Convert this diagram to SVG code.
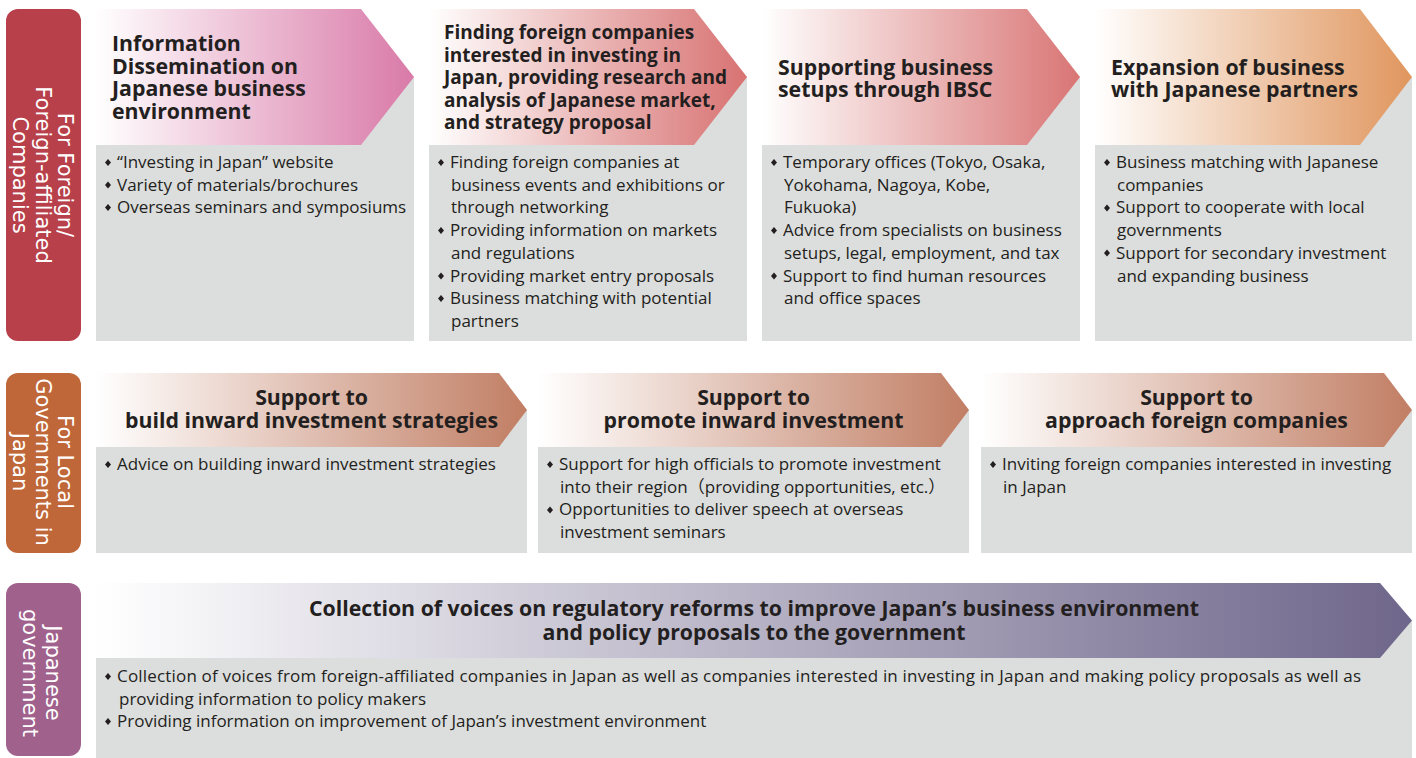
<svg xmlns="http://www.w3.org/2000/svg" width="1416" height="758" viewBox="0 0 1416 758">
<defs>
<linearGradient id="gPink" x1="0" y1="0" x2="1" y2="0"><stop offset="0" stop-color="#ffffff"/><stop offset="1" stop-color="#d97aa8"/></linearGradient>
<linearGradient id="gRed" x1="0" y1="0" x2="1" y2="0"><stop offset="0" stop-color="#ffffff"/><stop offset="1" stop-color="#d87272"/></linearGradient>
<linearGradient id="gRed2" x1="0" y1="0" x2="1" y2="0"><stop offset="0" stop-color="#ffffff"/><stop offset="1" stop-color="#d97575"/></linearGradient>
<linearGradient id="gOrange" x1="0" y1="0" x2="1" y2="0"><stop offset="0" stop-color="#ffffff"/><stop offset="1" stop-color="#e0965e"/></linearGradient>
<linearGradient id="gBrown" x1="0" y1="0" x2="1" y2="0"><stop offset="0" stop-color="#ffffff"/><stop offset="1" stop-color="#c17e64"/></linearGradient>
<linearGradient id="gPurple" x1="0" y1="0" x2="1" y2="0"><stop offset="0" stop-color="#ffffff"/><stop offset="1" stop-color="#6f668b"/></linearGradient>
<path id="dia" d="M0,-3.6 L3,0 L0,3.6 L-3,0 Z" fill="#231f20"/>
</defs>
<style>
.body{fill:#dcdddd}
.lab{font-family:"DejaVu Sans",Verdana,sans-serif;font-size:21px;fill:#ffffff;text-anchor:middle}
.hd{font-family:"Open Sans","Noto Sans",sans-serif;font-weight:bold;font-size:21.3px;fill:#231f20}
.hc{text-anchor:middle}
.tx{font-family:"Open Sans","Noto Sans","Noto Sans CJK JP",sans-serif;font-size:17px;fill:#231f20}
</style>
<rect width="1416" height="758" fill="#ffffff"/>

<g id="label-foreign">
<rect x="6" y="9" width="75" height="332" rx="12" fill="#b7404a"/>
<text class="lab" transform="translate(58,175) rotate(90)"><tspan x="0" y="0">For Foreign/</tspan><tspan x="0" dy="22.5">Foreign-affiliated</tspan><tspan x="0" dy="22.5">Companies</tspan></text>
</g>
<g id="label-local">
<rect x="6" y="373" width="75" height="180" rx="12" fill="#c0673a"/>
<text class="lab" transform="translate(58,462) rotate(90)"><tspan x="0" y="0">For Local</tspan><tspan x="0" dy="22.5">Governments in</tspan><tspan x="0" dy="22.5">Japan</tspan></text>
</g>
<g id="label-gov">
<rect x="6" y="583" width="75" height="173" rx="12" fill="#a0618d"/>
<text class="lab" transform="translate(46,673) rotate(90)"><tspan x="0" y="0">Japanese</tspan><tspan x="0" dy="23">government</tspan></text>
</g>

<g id="card-info">
<rect class="body" x="96" y="77" width="318" height="264"/>
<polygon points="96,9 361,9 414,77 361,145 96,145" fill="url(#gPink)"/>
<text class="hd" x="112" y="51"><tspan x="112">Information</tspan><tspan x="112" dy="22.5">Dissemination on</tspan><tspan x="112" dy="22.5">Japanese business</tspan><tspan x="112" dy="22.5">environment</tspan></text>
<use href="#dia" x="108" y="162.5"/><use href="#dia" x="108" y="185"/><use href="#dia" x="108" y="207.5"/>
<text class="tx" x="117" y="168"><tspan x="117">“Investing in Japan” website</tspan><tspan x="117" dy="22.7">Variety of materials/brochures</tspan><tspan x="117" dy="22.7">Overseas seminars and symposiums</tspan></text>
</g>

<g id="card-finding">
<rect class="body" x="429" y="77" width="318" height="264"/>
<polygon points="429,9 694,9 747,77 694,145 429,145" fill="url(#gRed)"/>
<text class="hd" x="444" y="39" style="font-size:19px"><tspan x="444">Finding foreign companies</tspan><tspan x="444" dy="22.5">interested in investing in</tspan><tspan x="444" dy="22.5">Japan, providing research and</tspan><tspan x="444" dy="22.5">analysis of Japanese market,</tspan><tspan x="444" dy="22.5">and strategy proposal</tspan></text>
<use href="#dia" x="441" y="162.5"/><use href="#dia" x="441" y="230.5"/><use href="#dia" x="441" y="276"/><use href="#dia" x="441" y="298.5"/>
<text class="tx" x="450" y="168"><tspan x="450">Finding foreign companies at</tspan><tspan x="451" dy="22.7">business events and exhibitions or</tspan><tspan x="451" dy="22.7">through networking</tspan><tspan x="450" dy="22.7">Providing information on markets</tspan><tspan x="451" dy="22.7">and regulations</tspan><tspan x="450" dy="22.7">Providing market entry proposals</tspan><tspan x="450" dy="22.7">Business matching with potential</tspan><tspan x="451" dy="22.7">partners</tspan></text>
</g>

<g id="card-ibsc">
<rect class="body" x="762" y="77" width="318" height="264"/>
<polygon points="762,9 1027,9 1080,77 1027,145 762,145" fill="url(#gRed2)"/>
<text class="hd" x="778" y="75"><tspan x="778">Supporting business</tspan><tspan x="778" dy="22">setups through IBSC</tspan></text>
<use href="#dia" x="774" y="162.5"/><use href="#dia" x="774" y="230.5"/><use href="#dia" x="774" y="276"/>
<text class="tx" x="783" y="168"><tspan x="783">Temporary offices (Tokyo, Osaka,</tspan><tspan x="784" dy="22.7">Yokohama, Nagoya, Kobe,</tspan><tspan x="784" dy="22.7">Fukuoka)</tspan><tspan x="783" dy="22.7">Advice from specialists on business</tspan><tspan x="784" dy="22.7">setups, legal, employment, and tax</tspan><tspan x="783" dy="22.7">Support to find human resources</tspan><tspan x="784" dy="22.7">and office spaces</tspan></text>
</g>

<g id="card-expansion">
<rect class="body" x="1095" y="77" width="317" height="264"/>
<polygon points="1095,9 1360,9 1412,77 1360,145 1095,145" fill="url(#gOrange)"/>
<text class="hd" x="1111" y="75"><tspan x="1111">Expansion of business</tspan><tspan x="1111" dy="22">with Japanese partners</tspan></text>
<use href="#dia" x="1107" y="162.5"/><use href="#dia" x="1107" y="208"/><use href="#dia" x="1107" y="253"/>
<text class="tx" x="1116" y="168"><tspan x="1116">Business matching with Japanese</tspan><tspan x="1117" dy="22.7">companies</tspan><tspan x="1116" dy="22.7">Support to cooperate with local</tspan><tspan x="1117" dy="22.7">governments</tspan><tspan x="1116" dy="22.7">Support for secondary investment</tspan><tspan x="1117" dy="22.7">and expanding business</tspan></text>
</g>

<g id="card-strategies">
<rect class="body" x="96" y="410" width="431" height="143"/>
<polygon points="96,373 499,373 527,410 499,447 96,447" fill="url(#gBrown)"/>
<text class="hd hc" x="311.5" y="405"><tspan x="311.5">Support to</tspan><tspan x="311.5" dy="23">build inward investment strategies</tspan></text>
<use href="#dia" x="108" y="464.5"/>
<text class="tx" x="117" y="470">Advice on building inward investment strategies</text>
</g>

<g id="card-promote">
<rect class="body" x="538" y="410" width="431" height="143"/>
<polygon points="538,373 941,373 969,410 941,447 538,447" fill="url(#gBrown)"/>
<text class="hd hc" x="753.5" y="405"><tspan x="753.5">Support to</tspan><tspan x="753.5" dy="23">promote inward investment</tspan></text>
<use href="#dia" x="550" y="464.5"/><use href="#dia" x="550" y="510"/>
<text class="tx" x="559" y="470"><tspan x="559">Support for high officials to promote investment</tspan><tspan x="560" dy="22.7">into their region（providing opportunities, etc.）</tspan><tspan x="559" dy="22.7">Opportunities to deliver speech at overseas</tspan><tspan x="560" dy="22.7">investment seminars</tspan></text>
</g>

<g id="card-approach">
<rect class="body" x="981" y="410" width="431" height="143"/>
<polygon points="981,373 1384,373 1412,410 1384,447 981,447" fill="url(#gBrown)"/>
<text class="hd hc" x="1196.5" y="405"><tspan x="1196.5">Support to</tspan><tspan x="1196.5" dy="23">approach foreign companies</tspan></text>
<use href="#dia" x="993" y="464.5"/>
<text class="tx" x="1002" y="470"><tspan x="1002">Inviting foreign companies interested in investing</tspan><tspan x="1003" dy="22.7">in Japan</tspan></text>
</g>

<g id="card-government">
<rect class="body" x="96" y="620" width="1316" height="138"/>
<polygon points="96,583 1380,583 1412,620.5 1380,658 96,658" fill="url(#gPurple)"/>
<text class="hd hc" x="754" y="616"><tspan x="754">Collection of voices on regulatory reforms to improve Japan’s business environment</tspan><tspan x="754" dy="24">and policy proposals to the government</tspan></text>
<use href="#dia" x="108" y="676.5"/><use href="#dia" x="108" y="721.5"/>
<text class="tx" x="117" y="682" textLength="1244" lengthAdjust="spacing">Collection of voices from foreign-affiliated companies in Japan as well as companies interested in investing in Japan and making policy proposals as well as</text>
<text class="tx" x="119" y="704.5">providing information to policy makers</text>
<text class="tx" x="117" y="727">Providing information on improvement of Japan’s investment environment</text>
</g>

<g id="connectors"/>
</svg>
